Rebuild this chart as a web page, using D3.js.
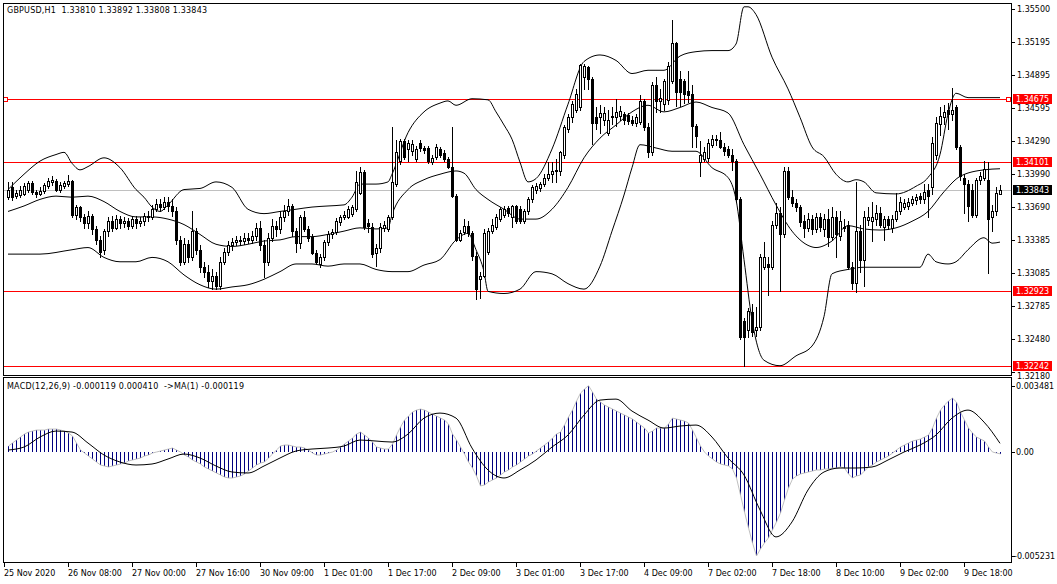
<!DOCTYPE html>
<html><head><meta charset="utf-8">
<script src="https://cdn.jsdelivr.net/npm/d3@7"></script>
<style>
body{margin:0;background:#fff}
svg{display:block}
text{font-family:"DejaVu Sans",Verdana,sans-serif;font-size:8px;white-space:pre}
</style></head>
<body><svg id="c" width="1057" height="584"></svg>
<script>
const symbolTitle = "GBPUSD,H1  1.33810 1.33892 1.33808 1.33843";
const macdTitle = "MACD(12,26,9) -0.000119 0.000410  ->MA(1) -0.000119";
const timeLabels = ["25 Nov 2020","26 Nov 08:00","27 Nov 00:00","27 Nov 16:00","30 Nov 09:00","1 Dec 01:00","1 Dec 17:00","2 Dec 09:00","3 Dec 01:00","3 Dec 17:00","4 Dec 09:00","7 Dec 02:00","7 Dec 18:00","8 Dec 10:00","9 Dec 02:00","9 Dec 18:00"];
const timeLabelBars = [0,16,32,48,64,80,96,112,128,144,160,176,192,208,224,240];
const priceTicks = [1.35500,1.35195,1.34895,1.34595,1.34290,1.33990,1.33690,1.33385,1.33085,1.32785,1.32480,1.32180];
const levelLines = [1.34675,1.34101,1.32923,1.32242];
const lastPrice = 1.33843;
const macdTicks = [0.003481,0,-0.005231];
const macdTickText = ["0.003481","0.00","-0.005231"];

const open = [
1.3378,1.3387,1.3379,1.3380,1.3381,1.3385,1.3391,1.3383,1.3381,1.3384,
1.3388,1.3392,1.3393,1.3385,1.3388,1.3390,1.3393,1.3362,1.3369,1.3360,
1.3354,1.3361,1.3349,1.3339,1.3330,1.3347,1.3356,1.3350,1.3358,1.3354,
1.3356,1.3352,1.3358,1.3354,1.3356,1.3361,1.3360,1.3367,1.3372,1.3369,
1.3374,1.3370,1.3365,1.3339,1.3319,1.3335,1.3323,1.3347,1.3330,1.3314,
1.3310,1.3301,1.3306,1.3297,1.3319,1.3328,1.3334,1.3337,1.3339,1.3338,
1.3341,1.3339,1.3343,1.3350,1.3334,1.3319,1.3341,1.3352,1.3349,1.3360,
1.3365,1.3370,1.3347,1.3336,1.3360,1.3349,1.3342,1.3327,1.3317,1.3323,
1.3337,1.3344,1.3346,1.3355,1.3360,1.3360,1.3363,1.3367,1.3382,1.3401,
1.3354,1.3351,1.3327,1.3332,1.3350,1.3349,1.3360,1.3390,1.3411,1.3429,
1.3422,1.3420,1.3413,1.3428,1.3423,1.3423,1.3410,1.3415,1.3422,1.3418,
1.3413,1.3406,1.3379,1.3339,1.3346,1.3352,1.3345,1.3324,1.3303,1.3306,
1.3328,1.3347,1.3351,1.3358,1.3362,1.3368,1.3360,1.3370,1.3367,1.3356,
1.3365,1.3376,1.3385,1.3386,1.3390,1.3396,1.3399,1.3402,1.3402,1.3417,
1.3440,1.3451,1.3458,1.3460,1.3488,1.3497,1.3486,1.3451,1.3451,1.3449,
1.3437,1.3451,1.3451,1.3452,1.3454,1.3453,1.3449,1.3446,1.3447,1.3466,
1.3442,1.3419,1.3481,1.3466,1.3463,1.3467,1.3484,1.3519,1.3486,1.3484,
1.3475,1.3472,1.3443,1.3410,1.3413,1.3414,1.3426,1.3430,1.3430,1.3424,
1.3422,1.3417,1.3411,1.3376,1.3265,1.3257,1.3273,1.3257,1.3259,1.3314,
1.3317,1.3314,1.3353,1.3364,1.3344,1.3402,1.3378,1.3373,1.3369,1.3356,
1.3350,1.3358,1.3349,1.3360,1.3349,1.3358,1.3342,1.3360,1.3343,1.3351,
1.3353,1.3314,1.3300,1.3347,1.3321,1.3357,1.3356,1.3358,1.3364,1.3351,
1.3358,1.3350,1.3358,1.3365,1.3369,1.3370,1.3373,1.3375,1.3379,1.3376,
1.3385,1.3387,1.3417,1.3445,1.3451,1.3458,1.3454,1.3460,1.3424,1.3396,
1.3390,1.3385,1.3362,1.3394,1.3396,1.3394,1.3360,1.3365,1.33810];
const high = [
1.3392,1.3392,1.3385,1.3388,1.3391,1.3393,1.3393,1.3385,1.3387,1.3391,
1.3396,1.3397,1.3395,1.3392,1.3393,1.3398,1.3394,1.3371,1.3370,1.3363,
1.3365,1.3363,1.3352,1.3343,1.3349,1.3360,1.3361,1.3362,1.3361,1.3360,
1.3359,1.3361,1.3361,1.3360,1.3364,1.3365,1.3371,1.3376,1.3376,1.3378,
1.3378,1.3376,1.3369,1.3343,1.3341,1.3339,1.3365,1.3350,1.3334,1.3319,
1.3316,1.3312,1.3310,1.3323,1.3332,1.3338,1.3341,1.3343,1.3343,1.3345,
1.3345,1.3347,1.3354,1.3356,1.3339,1.3345,1.3358,1.3356,1.3365,1.3371,
1.3376,1.3372,1.3350,1.3362,1.3365,1.3352,1.3344,1.3330,1.3326,1.3339,
1.3347,1.3349,1.3359,1.3362,1.3365,1.3370,1.3371,1.3402,1.3406,1.3403,
1.3358,1.3354,1.3335,1.3354,1.3356,1.3362,1.3442,1.3430,1.3431,1.3431,
1.3430,1.3430,1.3425,1.3430,1.3425,1.3425,1.3417,1.3427,1.3424,1.3421,
1.3415,1.3442,1.3381,1.3348,1.3358,1.3356,1.3347,1.3328,1.3310,1.3349,
1.3350,1.3358,1.3363,1.3369,1.3370,1.3370,1.3371,1.3371,1.3370,1.3367,
1.3378,1.3389,1.3391,1.3392,1.3399,1.3410,1.3410,1.3413,1.3420,1.3444,
1.3454,1.3466,1.3477,1.3500,1.3500,1.3498,1.3488,1.3460,1.3462,1.3460,
1.3458,1.3460,1.3468,1.3461,1.3456,1.3455,1.3452,1.3454,1.3471,1.3468,
1.3446,1.3483,1.3488,1.3477,1.3486,1.3502,1.3540,1.3520,1.3493,1.3486,
1.3493,1.3481,1.3445,1.3429,1.3424,1.3431,1.3435,1.3435,1.3438,1.3428,
1.3425,1.3422,1.3413,1.3378,1.3268,1.3277,1.3280,1.3278,1.3326,1.3337,
1.3323,1.3356,1.3373,1.3369,1.3406,1.3406,1.3385,1.3376,1.3371,1.3362,
1.3364,1.3362,1.3364,1.3364,1.3363,1.3367,1.3369,1.3365,1.3365,1.3358,
1.3356,1.3319,1.3392,1.3353,1.3365,1.3369,1.3374,1.3371,1.3369,1.3361,
1.3361,1.3362,1.3382,1.3378,1.3376,1.3377,1.3379,1.3381,1.3382,1.3390,
1.3390,1.3433,1.3451,1.3460,1.3462,1.3464,1.3478,1.3462,1.3426,1.3399,
1.3394,1.3390,1.3396,1.3401,1.3411,1.3410,1.3371,1.3387,1.33892];
const low = [
1.3376,1.3375,1.3377,1.3378,1.3380,1.3383,1.3381,1.3378,1.3380,1.3382,
1.3386,1.3389,1.3384,1.3383,1.3386,1.3388,1.3360,1.3358,1.3356,1.3350,
1.3350,1.3344,1.3335,1.3323,1.3326,1.3343,1.3347,1.3349,1.3350,1.3351,
1.3349,1.3350,1.3350,1.3352,1.3353,1.3356,1.3358,1.3365,1.3365,1.3367,
1.3365,1.3361,1.3335,1.3316,1.3317,1.3319,1.3321,1.3326,1.3310,1.3305,
1.3296,1.3294,1.3294,1.3294,1.3317,1.3325,1.3330,1.3334,1.3334,1.3335,
1.3336,1.3336,1.3339,1.3330,1.3305,1.3316,1.3338,1.3343,1.3345,1.3356,
1.3362,1.3343,1.3328,1.3332,1.3347,1.3338,1.3326,1.3317,1.3314,1.3321,
1.3334,1.3341,1.3344,1.3353,1.3358,1.3359,1.3361,1.3365,1.3381,1.3349,
1.3346,1.3323,1.3315,1.3328,1.3347,1.3347,1.3358,1.3388,1.3408,1.3413,
1.3411,1.3417,1.3411,1.3420,1.3418,1.3409,1.3408,1.3413,1.3415,1.3411,
1.3405,1.3378,1.3338,1.3338,1.3344,1.3343,1.3321,1.3285,1.3286,1.3305,
1.3326,1.3345,1.3349,1.3356,1.3360,1.3361,1.3351,1.3354,1.3354,1.3354,
1.3363,1.3374,1.3382,1.3384,1.3388,1.3394,1.3392,1.3392,1.3398,1.3414,
1.3438,1.3447,1.3456,1.3458,1.3477,1.3477,1.3427,1.3440,1.3437,1.3444,
1.3435,1.3445,1.3443,1.3449,1.3445,1.3445,1.3444,1.3443,1.3445,1.3439,
1.3415,1.3417,1.3456,1.3456,1.3458,1.3463,1.3482,1.3461,1.3461,1.3464,
1.3465,1.3424,1.3424,1.3397,1.3411,1.3411,1.3424,1.3426,1.3423,1.3417,
1.3415,1.3403,1.3374,1.3248,1.3224,1.3250,1.3251,1.3251,1.3257,1.3312,
1.3289,1.3312,1.3350,1.3292,1.3342,1.3376,1.3370,1.3365,1.3352,1.3342,
1.3347,1.3344,1.3346,1.3347,1.3343,1.3333,1.3339,1.3323,1.3339,1.3347,
1.3312,1.3294,1.3291,1.3310,1.3297,1.3353,1.3338,1.3353,1.3351,1.3339,
1.3349,1.3346,1.3356,1.3363,1.3367,1.3367,1.3371,1.3372,1.3373,1.3373,
1.3360,1.3381,1.3413,1.3435,1.3445,1.3440,1.3449,1.3422,1.3394,1.3364,
1.3356,1.3360,1.3360,1.3390,1.3394,1.3309,1.3347,1.3362,1.33808];
const close = [
1.3385,1.3378,1.3382,1.3385,1.3388,1.3391,1.3383,1.3381,1.3384,1.3389,
1.3393,1.3394,1.3385,1.3389,1.3391,1.3393,1.3362,1.3369,1.3360,1.3354,
1.3361,1.3349,1.3339,1.3328,1.3347,1.3356,1.3350,1.3358,1.3354,1.3356,
1.3352,1.3358,1.3354,1.3356,1.3361,1.3360,1.3367,1.3372,1.3369,1.3374,
1.3370,1.3365,1.3339,1.3319,1.3335,1.3323,1.3347,1.3330,1.3314,1.3310,
1.3301,1.3306,1.3297,1.3319,1.3328,1.3334,1.3337,1.3339,1.3338,1.3341,
1.3339,1.3343,1.3350,1.3334,1.3319,1.3341,1.3352,1.3349,1.3360,1.3365,
1.3370,1.3347,1.3336,1.3360,1.3349,1.3341,1.3327,1.3319,1.3323,1.3337,
1.3344,1.3346,1.3356,1.3360,1.3362,1.3367,1.3369,1.3392,1.3401,1.3351,
1.3352,1.3326,1.3332,1.3351,1.3353,1.3360,1.3392,1.3419,1.3429,1.3415,
1.3428,1.3427,1.3422,1.3423,1.3421,1.3411,1.3414,1.3424,1.3417,1.3413,
1.3406,1.3379,1.3339,1.3345,1.3352,1.3345,1.3324,1.3294,1.3306,1.3345,
1.3347,1.3353,1.3360,1.3367,1.3367,1.3364,1.3370,1.3356,1.3356,1.3365,
1.3376,1.3387,1.3388,1.3390,1.3396,1.3399,1.3402,1.3403,1.3419,1.3442,
1.3451,1.3463,1.3472,1.3499,1.3498,1.3486,1.3446,1.3446,1.3455,1.3455,
1.3449,1.3452,1.3456,1.3457,1.3449,1.3448,1.3446,1.3451,1.3466,1.3442,
1.3419,1.3481,1.3466,1.3469,1.3484,1.3498,1.3519,1.3474,1.3474,1.3472,
1.3471,1.3443,1.3434,1.3417,1.3419,1.3428,1.3431,1.3431,1.3424,1.3420,
1.3417,1.3411,1.3376,1.3250,1.3250,1.3274,1.3255,1.3259,1.3323,1.3323,
1.3314,1.3353,1.3364,1.3344,1.3402,1.3378,1.3373,1.3369,1.3355,1.3350,
1.3358,1.3349,1.3360,1.3351,1.3358,1.3342,1.3360,1.3344,1.3356,1.3350,
1.3314,1.3300,1.3347,1.3321,1.3360,1.3360,1.3360,1.3364,1.3353,1.3358,
1.3353,1.3358,1.3365,1.3374,1.3373,1.3374,1.3376,1.3378,1.3376,1.3383,
1.3379,1.3428,1.3446,1.3452,1.3456,1.3454,1.3458,1.3424,1.3397,1.3390,
1.3370,1.3362,1.3394,1.3397,1.3404,1.3358,1.3365,1.3382,1.33843];

// Bollinger bands (20,2), bar index -> price
const upperBars = [1,5,9,13,15,17,19,21,25,29,33,35,37,39,41,45,49,53,57,61,65,69,73,77,81,85,87,89,93,96,97,101,105,109,111,113,117,121,123,125,127,129,131,133,137,141,145,149,153,157,161,165,169,173,177,181,183,185,186,188,192,196,199,202,205,208,211,213,215,218,223,228,231,234,236,237,238,241,245,249];
const upper = [1.3385,1.3399,1.3411,1.3417,1.3419,1.3409,1.3403,1.3406,1.3414,1.3405,1.3385,1.3378,1.3369,1.3365,1.3371,1.3385,1.3386,1.3392,1.3387,1.3367,1.3363,1.3365,1.3367,1.3369,1.3370,1.3371,1.3378,1.3390,1.3390,1.3392,1.3399,1.3437,1.3456,1.3464,1.3466,1.3462,1.3468,1.3467,1.3456,1.3444,1.3431,1.3410,1.3392,1.3395,1.3422,1.3463,1.3502,1.3508,1.3503,1.3491,1.3494,1.3494,1.3507,1.3511,1.3512,1.3512,1.3518,1.3552,1.3552,1.3545,1.3506,1.3477,1.3451,1.3424,1.3415,1.3399,1.3392,1.3394,1.3392,1.3382,1.3381,1.3388,1.3396,1.3417,1.3454,1.3467,1.3473,1.3469,1.3469,1.3469];
const middleBars = [1,5,9,13,17,21,25,29,33,37,41,45,49,53,57,61,65,69,73,77,81,85,89,93,96,97,101,105,109,113,115,118,121,125,129,133,137,141,145,149,153,157,161,165,169,173,177,181,185,189,193,197,201,203,207,211,215,219,223,227,231,235,239,245,249];
const middle = [1.3365,1.3370,1.3376,1.3379,1.3378,1.3379,1.3374,1.3365,1.3360,1.3360,1.3358,1.3353,1.3344,1.3335,1.3333,1.3335,1.3338,1.3339,1.3342,1.3342,1.3344,1.3347,1.3350,1.3349,1.3350,1.3362,1.3385,1.3394,1.3399,1.3402,1.3400,1.3385,1.3376,1.3367,1.3358,1.3358,1.3367,1.3387,1.3414,1.3432,1.3444,1.3456,1.3462,1.3456,1.3460,1.3465,1.3460,1.3455,1.3426,1.3399,1.3371,1.3347,1.3334,1.3332,1.3338,1.3352,1.3349,1.3348,1.3350,1.3356,1.3365,1.3383,1.3397,1.3403,1.3404];
const lowerBars = [1,9,17,21,25,29,33,37,41,45,49,53,57,61,65,69,73,77,81,85,89,93,97,101,105,109,113,116,118,120,121,125,129,133,137,141,145,149,152,155,157,159,163,167,173,177,181,183,185,187,190,194,198,202,205,207,211,215,229,231,233,236,238,241,245,247,249];
const lower = [1.3326,1.3326,1.3330,1.3332,1.3323,1.3319,1.3319,1.3323,1.3319,1.3307,1.3298,1.3294,1.3296,1.3298,1.3303,1.3310,1.3317,1.3317,1.3315,1.3317,1.3317,1.3312,1.3310,1.3310,1.3316,1.3321,1.3339,1.3345,1.3330,1.3310,1.3292,1.3290,1.3294,1.3310,1.3308,1.3299,1.3294,1.3315,1.3347,1.3380,1.3405,1.3426,1.3423,1.3420,1.3420,1.3405,1.3396,1.3376,1.3321,1.3266,1.3229,1.3224,1.3233,1.3242,1.3269,1.3308,1.3312,1.3314,1.3314,1.3326,1.3319,1.3317,1.3319,1.3330,1.3341,1.3336,1.3337];

// MACD main value for every bar
const macd = [
0.000275,0.000425,0.000575,0.000725,0.000875,0.000975,0.001025,0.001075,0.001075,0.001075,
0.001125,0.001125,0.001125,0.001075,0.001025,0.000925,0.000775,0.000425,0.000075,-0.000075,
-0.000225,-0.000375,-0.000525,-0.000675,-0.000725,-0.000775,-0.000725,-0.000675,-0.000625,-0.000575,
-0.000475,-0.000425,-0.000375,-0.000325,-0.000225,-0.000175,-0.000075,-0.000025,0.000025,0.000075,
0.000125,0.000175,0.000075,-0.000025,-0.000175,-0.000275,-0.000425,-0.000525,-0.000625,-0.000775,
-0.000875,-0.000975,-0.001075,-0.001175,-0.001275,-0.001325,-0.001325,-0.001275,-0.001225,-0.001125,
-0.000975,-0.000825,-0.000675,-0.000575,-0.000525,-0.000325,-0.000125,0.000075,0.000275,0.000325,
0.000325,0.000275,0.000225,0.000225,0.000175,0.000075,-0.000075,-0.000175,-0.000175,-0.000125,
-0.000075,-0.000025,0.000075,0.000225,0.000375,0.000525,0.000675,0.000875,0.000975,0.000825,
0.000675,0.000475,0.000225,0.000175,0.000125,0.000125,0.000375,0.000825,0.001225,0.001575,
0.001775,0.001975,0.002075,0.002125,0.002075,0.001975,0.001875,0.001775,0.001675,0.001575,
0.001375,0.000875,0.000575,0.000225,-0.000125,-0.000525,-0.000825,-0.001225,-0.001725,-0.001675,
-0.001525,-0.001425,-0.001325,-0.001175,-0.001025,-0.000925,-0.000775,-0.000675,-0.000525,-0.000375,
-0.000225,-0.000125,0.000025,0.000175,0.000325,0.000475,0.000675,0.000875,0.000975,0.001325,
0.001725,0.002075,0.002525,0.002925,0.003125,0.003300,0.002975,0.002625,0.002475,0.002325,
0.002225,0.002125,0.002025,0.001925,0.001825,0.001725,0.001625,0.001475,0.001325,0.001175,
0.000925,0.001025,0.001175,0.001175,0.001175,0.001375,0.001675,0.001625,0.001575,0.001525,
0.001425,0.001075,0.000675,0.000275,-0.000025,-0.000225,-0.000375,-0.000525,-0.000625,-0.000675,
-0.000725,-0.000875,-0.001325,-0.002175,-0.003025,-0.003825,-0.004575,-0.005231,-0.004875,-0.004575,
-0.004325,-0.003925,-0.003525,-0.003075,-0.002425,-0.001825,-0.001375,-0.001225,-0.001125,-0.001075,
-0.001025,-0.000975,-0.000925,-0.000925,-0.000875,-0.000875,-0.000825,-0.000825,-0.000775,-0.000825,
-0.001125,-0.001325,-0.001225,-0.001175,-0.000975,-0.000775,-0.000675,-0.000525,-0.000425,-0.000325,
-0.000225,-0.000075,0.000075,0.000225,0.000325,0.000425,0.000525,0.000575,0.000625,0.000725,
0.000825,0.001175,0.001675,0.002075,0.002325,0.002525,0.002675,0.002475,0.001975,0.001575,
0.001175,0.000925,0.000725,0.000625,0.000525,0.000225,-0.000025,-0.000075,-0.000119];
// signal line sampled every fourth bar
const signalBars = [1,5,9,13,17,21,25,29,33,37,41,45,49,53,57,61,65,69,73,77,81,85,89,93,97,101,105,109,113,117,121,125,129,133,137,141,145,149,153,157,161,165,169,173,177,181,185,189,193,197,201,205,209,213,217,221,225,229,233,237,241,245,249];
const signal = [0.000075,0.000225,0.000725,0.001025,0.000975,0.000425,-0.000175,-0.000525,-0.000675,-0.000625,-0.000375,-0.000125,-0.000325,-0.000725,-0.001025,-0.001075,-0.000725,-0.000325,0.000025,0.000125,0.000175,0.000275,0.000575,0.000525,0.000475,0.000875,0.001675,0.001925,0.001675,0.000175,-0.000925,-0.001325,-0.000925,-0.000425,0.000225,0.000825,0.001825,0.002575,0.002625,0.002025,0.001575,0.001175,0.001275,0.001325,0.000725,-0.000325,-0.001175,-0.002925,-0.004275,-0.003525,-0.001925,-0.001025,-0.000825,-0.000825,-0.000775,-0.000425,-0.000025,0.000325,0.000825,0.001675,0.002075,0.001475,0.000410];

// ---------------- drawing ----------------
const svg = d3.select('#c');
const L = 3.5, R = 1011.5, T = 3.5, MB = 375.5, MT = 377.5, B = 562.5;
const x = d3.scaleLinear().domain([0, 250]).range([4, 1004]);
const y = d3.scaleLinear().domain([1.32180, 1.35500]).range([372.3, 9]);
const ym = d3.scaleLinear().domain([-0.005231, 0.003481]).range([556, 382]);
const px = i => Math.round(x(i));

const defs = svg.append('defs');
defs.append('clipPath').attr('id','cm').append('rect').attr('x',4).attr('y',4).attr('width',1007).attr('height',371);
defs.append('clipPath').attr('id','cd').append('rect').attr('x',4).attr('y',378).attr('width',1007).attr('height',184);

const gM = svg.append('g').attr('clip-path','url(#cm)');
const gD = svg.append('g').attr('clip-path','url(#cd)');

// horizontal level lines
gM.append('line').attr('x1',L).attr('x2',R).attr('y1',Math.round(y(lastPrice))+0.5).attr('y2',Math.round(y(lastPrice))+0.5)
  .attr('stroke','#c0c0c0').attr('stroke-width',1);
gM.selectAll('line.lvl').data(levelLines).join('line').attr('class','lvl')
  .attr('x1',L).attr('x2',R).attr('y1',d=>Math.round(y(d))+0.5).attr('y2',d=>Math.round(y(d))+0.5)
  .attr('stroke','#ff0000').attr('stroke-width',1);

const bars = d3.range(close.length).map(k => ({i:k+1,o:open[k],h:high[k],l:low[k],c:close[k],m:macd[k]}));

// Bollinger bands
const bandLine = d3.line().x(d=>x(d[0])).y(d=>y(d[1])).curve(d3.curveMonotoneX);
[[upperBars,upper],[middleBars,middle],[lowerBars,lower]].forEach(([b,v]) => {
  gM.append('path').attr('d', bandLine(b.map((bi,k)=>[bi,v[k]])))
    .attr('fill','none').attr('stroke','#000').attr('stroke-width',1);
});

// candles
gM.selectAll('line.wick').data(bars).join('line').attr('class','wick')
  .attr('x1',d=>px(d.i)+0.5).attr('x2',d=>px(d.i)+0.5)
  .attr('y1',d=>Math.round(y(d.h))).attr('y2',d=>Math.round(y(d.l))+1)
  .attr('stroke','#000').attr('stroke-width',1).attr('shape-rendering','crispEdges');
bars.forEach(d => {
  const top = Math.round(y(Math.max(d.o,d.c))), bot = Math.round(y(Math.min(d.o,d.c)));
  const cx = px(d.i);
  if (d.c > d.o && bot - top >= 2) {
    gM.append('rect').attr('x',cx-0.5).attr('y',top+0.5).attr('width',2).attr('height',bot-top)
      .attr('fill','#fff').attr('stroke','#000').attr('stroke-width',1).attr('shape-rendering','crispEdges');
  } else {
    gM.append('rect').attr('x',cx-1).attr('y',top).attr('width',3).attr('height',Math.max(1,bot-top+1))
      .attr('fill','#000').attr('shape-rendering','crispEdges');
  }
});

// selected object markers on the top level line
const lvY = Math.round(y(levelLines[0]));
[[3,lvY-2],[1006,lvY-2]].forEach(p => svg.append('rect').attr('x',p[0]+0.5).attr('y',p[1]+0.5).attr('width',4).attr('height',4)
  .attr('fill','#fff').attr('stroke','#ff0000').attr('stroke-width',1).attr('shape-rendering','crispEdges'));

// MACD histogram
const z0 = Math.round(ym(0));
gD.selectAll('line.h').data(bars).join('line').attr('class','h')
  .attr('x1',d=>px(d.i)+0.5).attr('x2',d=>px(d.i)+0.5)
  .attr('y1',z0).attr('y2',d=>Math.round(ym(d.m)))
  .attr('stroke','#000080').attr('stroke-width',1).attr('shape-rendering','crispEdges');
gD.append('path').attr('d', d3.line().x(d=>px(d.i)+0.5).y(d=>ym(d.m))(bars))
  .attr('fill','none').attr('stroke','#c0c0c0').attr('stroke-width',1);
gD.append('path').attr('d', d3.line().x(d=>x(d[0])).y(d=>ym(d[1])).curve(d3.curveMonotoneX)(signalBars.map((b,k)=>[b,signal[k]])))
  .attr('fill','none').attr('stroke','#000').attr('stroke-width',1);

// frames
svg.append('rect').attr('x',L).attr('y',T).attr('width',R-L).attr('height',MB-T).attr('fill','none').attr('stroke','#000').attr('shape-rendering','crispEdges');
svg.append('rect').attr('x',L).attr('y',MT).attr('width',R-L).attr('height',B-MT).attr('fill','none').attr('stroke','#000').attr('shape-rendering','crispEdges');

// titles
svg.append('text').attr('x',7).attr('y',13).attr('fill','#000').attr('textLength',200).attr('lengthAdjust','spacing').text(symbolTitle);
svg.append('text').attr('x',7).attr('y',389).attr('fill','#000').attr('textLength',237).attr('lengthAdjust','spacing').text(macdTitle);

// price axis
const pa = svg.append('g');
priceTicks.forEach((p,k) => {
  const yy = Math.round(y(p));
  const last = k === priceTicks.length - 1;
  pa.append('line').attr('x1',1012).attr('x2',1015).attr('y1',yy+0.5).attr('y2',yy+0.5).attr('stroke','#000').attr('shape-rendering','crispEdges');
  pa.append('text').attr('x',1017).attr('y', last ? yy+7 : yy+3).text(p.toFixed(5));
});
function tag(p, bg){
  const yy = Math.round(y(p));
  pa.append('rect').attr('x',1013).attr('y',yy-5).attr('width',39).attr('height',10).attr('fill',bg);
  pa.append('text').attr('x',1016).attr('y',yy+3).attr('fill','#fff').text(p.toFixed(5));
}
levelLines.forEach(p => tag(p,'#ff0000'));
tag(lastPrice,'#000');

// MACD axis
macdTicks.forEach((v,k) => {
  const yy = Math.min(Math.max(Math.round(ym(v)),386),557);
  pa.append('line').attr('x1',1012).attr('x2',1015).attr('y1',yy+0.5).attr('y2',yy+0.5).attr('stroke','#000').attr('shape-rendering','crispEdges');
  pa.append('text').attr('x', v < 0 ? 1014 : 1016).attr('y',yy+3).text(macdTickText[k]);
});

// time axis
timeLabelBars.forEach((b,k) => {
  const xx = px(b);
  pa.append('line').attr('x1',xx+0.5).attr('x2',xx+0.5).attr('y1',563).attr('y2',567).attr('stroke','#000').attr('shape-rendering','crispEdges');
  pa.append('text').attr('x',xx).attr('y',576).text(timeLabels[k]);
});
</script></body></html>
